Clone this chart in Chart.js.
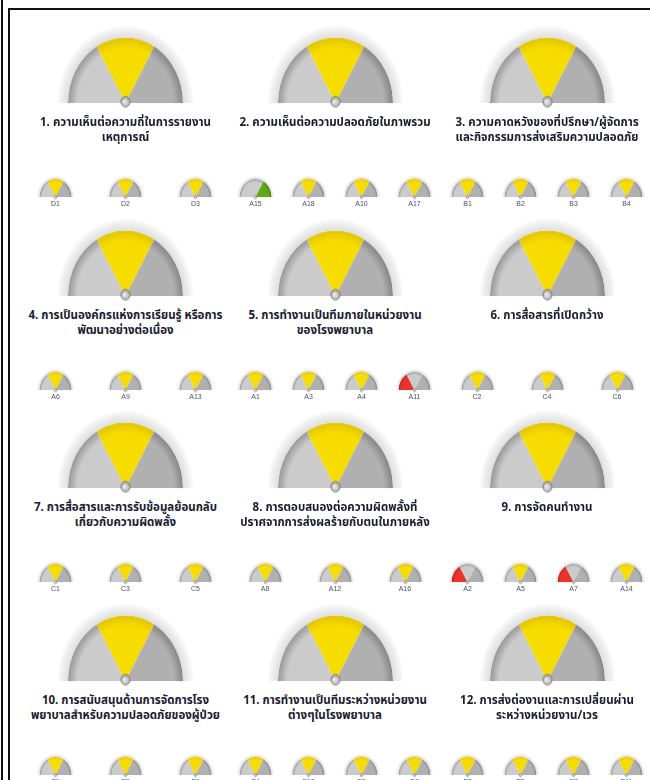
<!DOCTYPE html>
<html>
<head>
<meta charset="utf-8">
<script src="https://cdn.jsdelivr.net/npm/chart.js@4.4.1/dist/chart.umd.min.js"></script>
<style>
  html, body { margin: 0; padding: 0; background: #ffffff; }
  body { width: 650px; height: 780px; position: relative; overflow: hidden; }
  .edge { position: absolute; background: #111; }
  .gauge { position: absolute; }
  .gauge canvas { display: block; filter: blur(0.3px); }
  .title {
    position: absolute; width: 240px; text-align: center;
    font-family: Tahoma, "Noto Sans Thai", "Loma", "Garuda", "Norasi", sans-serif;
    font-weight: bold; font-size: 11.5px; line-height: 15.5px; color: #1b1b30;
    white-space: nowrap;
  }
  .item {
    position: absolute; width: 40px; text-align: center;
    font-family: "Liberation Sans", Arial, sans-serif;
    font-size: 7px; line-height: 8px; color: #46506a;
  }
</style>
</head>
<body>
<div class="edge" style="left:1px;top:0;width:2px;height:780px"></div>
<div class="edge" style="left:8px;top:8px;width:2px;height:772px"></div>
<div class="edge" style="left:8px;top:8px;width:642px;height:2px"></div>

<script>
// Survey dimensions (big gauges)
const dimensionTitles = [
  ['1. ความเห็นต่อความถี่ในการรายงาน', 'เหตุการณ์'],
  ['2. ความเห็นต่อความปลอดภัยในภาพรวม'],
  ['3. ความคาดหวังของที่ปรึกษา/ผู้จัดการ', 'และกิจกรรมการส่งเสริมความปลอดภัย'],
  ['4. การเป็นองค์กรแห่งการเรียนรู้ หรือการ', 'พัฒนาอย่างต่อเนื่อง'],
  ['5. การทำงานเป็นทีมภายในหน่วยงาน', 'ของโรงพยาบาล'],
  ['6. การสื่อสารที่เปิดกว้าง'],
  ['7. การสื่อสารและการรับข้อมูลย้อนกลับ', 'เกี่ยวกับความผิดพลั้ง'],
  ['8. การตอบสนองต่อความผิดพลั้งที่', 'ปราศจากการส่งผลร้ายกับตนในภายหลัง'],
  ['9. การจัดคนทำงาน'],
  ['10. การสนับสนุนด้านการจัดการโรง', 'พยาบาลสำหรับความปลอดภัยของผู้ป่วย'],
  ['11. การทำงานเป็นทีมระหว่างหน่วยงาน', 'ต่างๆในโรงพยาบาล'],
  ['12. การส่งต่องานและการเปลี่ยนผ่าน', 'ระหว่างหน่วยงาน/เวร']
];
// Level of each dimension: 1 = low (red), 2 = medium (yellow), 3 = high (green)
const dimensionLevels = [2, 2, 2, 2, 2, 2, 2, 2, 2, 2, 2, 2];

// Survey items (small gauges) grouped by dimension
const itemLabels = [
  ['D1', 'D2', 'D3'],
  ['A15', 'A18', 'A10', 'A17'],
  ['B1', 'B2', 'B3', 'B4'],
  ['A6', 'A9', 'A13'],
  ['A1', 'A3', 'A4', 'A11'],
  ['C2', 'C4', 'C6'],
  ['C1', 'C3', 'C5'],
  ['A8', 'A12', 'A16'],
  ['A2', 'A5', 'A7', 'A14'],
  ['F1', 'F8', 'F9'],
  ['F4', 'F10', 'F2', 'F6'],
  ['F3', 'F5', 'F7', 'F11']
];
const itemLevels = [
  [2, 2, 2],
  [3, 2, 2, 2],
  [2, 2, 2, 2],
  [2, 2, 2],
  [2, 2, 2, 1],
  [2, 2, 2],
  [2, 2, 2],
  [2, 2, 2],
  [1, 2, 1, 2],
  [2, 2, 2],
  [2, 2, 2, 2],
  [2, 2, 2, 2]
];
// The three zones of every gauge
const zoneNames = ['ต่ำ', 'ปานกลาง', 'สูง'];

// ---- drawing ----
const ZONE_ON = [
  ['#e8342c', '#b91e18'],
  ['#f7dc00', '#e2c300'],
  ['#62a812', '#3f7a04']
];
const ZONE_OFF = [
  ['#cbcbcb', '#979797'],
  ['#cbcbcb', '#979797'],
  ['#b0b0b0', '#868686']
];

const columnX = [125.5, 335, 547];
const rowBase = [103, 296, 488, 681];
const STRETCH = 1.14;

function arcCenter(ctx) {
  const chart = ctx.chart;
  const area = chart.chartArea;
  const ctl = chart.getDatasetMeta(ctx.datasetIndex).controller;
  if (!area || !ctl || !ctl.outerRadius) return null;
  return {
    x: (area.left + area.right) / 2 + (ctl.offsetX || 0),
    y: (area.top + area.bottom) / 2 + (ctl.offsetY || 0),
    r: ctl.outerRadius, ir: ctl.innerRadius
  };
}

function zoneFill(level) {
  return (ctx) => {
    const on = (ctx.dataIndex + 1) === level;
    const pair = on ? ZONE_ON[ctx.dataIndex] : ZONE_OFF[ctx.dataIndex];
    const c = arcCenter(ctx);
    if (!c) return pair[0];
    const g = ctx.chart.ctx.createRadialGradient(c.x, c.y, 0, c.x, c.y, c.r);
    g.addColorStop(0, pair[0]);
    g.addColorStop(0.84, pair[0]);
    g.addColorStop(1, pair[1]);
    return g;
  };
}

function ringFill(ctx) {
  const c = arcCenter(ctx);
  if (!c) return '#e8e8e8';
  const g = ctx.chart.ctx.createRadialGradient(c.x, c.y, 0, c.x, c.y, c.r);
  const f = c.ir / c.r;
  g.addColorStop(f, '#dedede');
  g.addColorStop(f + (1 - f) * 0.35, '#e9e9e9');
  g.addColorStop(0.93, '#ececec');
  g.addColorStop(1, 'rgba(240,240,240,0.35)');
  return g;
}

const pivotPlugin = {
  id: 'pivot',
  afterDatasetsDraw(chart, args, opts) {
    const arc = chart.getDatasetMeta(1).data[0];
    if (!arc) return;
    const { x, y } = arc.getProps(['x', 'y'], true);
    const c = chart.ctx;
    c.save();
    const r = opts.radius;
    const g = c.createRadialGradient(x - r * 0.3, y - r * 0.4, 0, x, y, r);
    g.addColorStop(0, '#f4f4f4');
    g.addColorStop(1, '#a9a9a9');
    c.beginPath();
    c.arc(x, y - opts.lift, r, 0, Math.PI * 2);
    c.fillStyle = g;
    c.fill();
    c.lineWidth = opts.line;
    c.strokeStyle = '#7d7d7d';
    c.stroke();
    c.restore();
  }
};

// size: ring outer radius, zone radius, pivot radius
function makeGauge(cx, base, level, size, labelName) {
  const pad = 6;
  const w = Math.ceil(size.outer * 2 + pad * 2);
  const h = Math.ceil(size.outer + pad + size.below);
  const wrap = document.createElement('div');
  wrap.className = 'gauge';
  wrap.style.left = (cx - w / 2) + 'px';
  wrap.style.top = (base - (h - size.below)) + 'px';
  wrap.style.width = w + 'px';
  wrap.style.height = h + 'px';
  wrap.style.transformOrigin = '50% ' + (h - size.below) + 'px';
  wrap.style.transform = 'scaleY(' + STRETCH + ')';
  const cv = document.createElement('canvas');
  cv.width = w; cv.height = h;
  wrap.appendChild(cv);
  document.body.appendChild(wrap);

  new Chart(cv, {
    type: 'doughnut',
    data: {
      labels: zoneNames,
      datasets: [
        { label: 'ring', data: [1], weight: size.outer - size.zone,
          backgroundColor: ringFill, borderWidth: 0 },
        { label: labelName, data: [1, 1, 1], weight: size.zone,
          backgroundColor: zoneFill(level), borderWidth: 0 }
      ]
    },
    options: {
      responsive: false,
      animation: false,
      events: [],
      rotation: -90,
      circumference: 180,
      cutout: 0,
      layout: { padding: { left: (w - size.outer * 2) / 2, right: (w - size.outer * 2) / 2,
                           top: h - size.below - size.outer, bottom: size.below } },
      plugins: {
        legend: { display: false },
        tooltip: { enabled: false },
        pivot: { radius: size.pivot, lift: size.lift, line: size.line }
      }
    },
    plugins: [pivotPlugin]
  });
}

const BIG = { outer: 67.5, zone: 57.5, below: 8, pivot: 4.6, lift: 1.2, line: 0.9 };
const SMALL = { outer: 18.5, zone: 16, below: 4, pivot: 1.4, lift: 0, line: 0.5 };

dimensionTitles.forEach((lines, d) => {
  const row = Math.floor(d / 3), col = d % 3;
  const cx = columnX[col], base = rowBase[row];
  makeGauge(cx, base, dimensionLevels[d], BIG, lines.join(' '));

  const t = document.createElement('div');
  t.className = 'title';
  t.style.left = (cx - 120) + 'px';
  t.style.top = (base + 11.5) + 'px';
  t.innerHTML = lines.map(s => s.replace(/&/g, '&amp;').replace(/</g, '&lt;')).join('<br>');
  document.body.appendChild(t);

  const items = itemLabels[d];
  const step = items.length === 3 ? 70 : 53;
  const sBase = base + 94;
  items.forEach((name, i) => {
    const x = cx + (i - (items.length - 1) / 2) * step;
    makeGauge(x, sBase, itemLevels[d][i], SMALL, name);
    const lab = document.createElement('div');
    lab.className = 'item';
    lab.style.left = (x - 20) + 'px';
    lab.style.top = (sBase + 3) + 'px';
    lab.textContent = name;
    document.body.appendChild(lab);
  });
});
</script>
</body>
</html>
